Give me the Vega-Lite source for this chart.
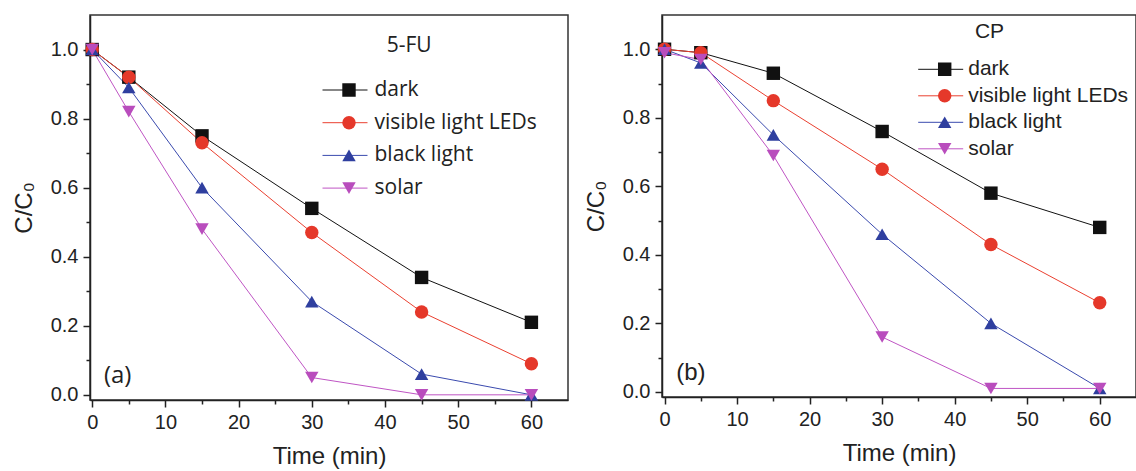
{
  "$schema": "https://vega.github.io/schema/vega-lite/v6.json",
  "background": "white",
  "padding": {"left": 11, "top": 14, "right": 0, "bottom": 0},
  "spacing": 14,
  "config": {
    "view": {"stroke": "#333333", "strokeWidth": 1.5},
    "axis": {
      "grid": false,
      "domainColor": "#222222", "domainWidth": 1.5,
      "tickColor": "#222222", "tickWidth": 1.5,
      "labelFont": "Liberation Sans", "labelFontSize": 20, "labelColor": "#222222",
      "titleFont": "Liberation Sans", "titleFontSize": 24, "titleFontWeight": "normal", "titleColor": "#222222"
    }
  },
  "datasets": {
    "fu": [
      {"series": "dark", "t": 0, "c": 1.0},
      {"series": "dark", "t": 5, "c": 0.92},
      {"series": "dark", "t": 15, "c": 0.75},
      {"series": "dark", "t": 30, "c": 0.54},
      {"series": "dark", "t": 45, "c": 0.34},
      {"series": "dark", "t": 60, "c": 0.21},
      {"series": "visible light LEDs", "t": 0, "c": 1.0},
      {"series": "visible light LEDs", "t": 5, "c": 0.92},
      {"series": "visible light LEDs", "t": 15, "c": 0.73},
      {"series": "visible light LEDs", "t": 30, "c": 0.47},
      {"series": "visible light LEDs", "t": 45, "c": 0.24},
      {"series": "visible light LEDs", "t": 60, "c": 0.09},
      {"series": "black light", "t": 0, "c": 1.0},
      {"series": "black light", "t": 5, "c": 0.89},
      {"series": "black light", "t": 15, "c": 0.6},
      {"series": "black light", "t": 30, "c": 0.27},
      {"series": "black light", "t": 45, "c": 0.06},
      {"series": "black light", "t": 60, "c": 0.0},
      {"series": "solar", "t": 0, "c": 1.0},
      {"series": "solar", "t": 5, "c": 0.82},
      {"series": "solar", "t": 15, "c": 0.48},
      {"series": "solar", "t": 30, "c": 0.05},
      {"series": "solar", "t": 45, "c": 0.0},
      {"series": "solar", "t": 60, "c": 0.0}
    ],
    "cp": [
      {"series": "dark", "t": 0, "c": 1.0},
      {"series": "dark", "t": 5, "c": 0.99},
      {"series": "dark", "t": 15, "c": 0.93},
      {"series": "dark", "t": 30, "c": 0.76},
      {"series": "dark", "t": 45, "c": 0.58},
      {"series": "dark", "t": 60, "c": 0.48},
      {"series": "visible light LEDs", "t": 0, "c": 1.0},
      {"series": "visible light LEDs", "t": 5, "c": 0.99},
      {"series": "visible light LEDs", "t": 15, "c": 0.85},
      {"series": "visible light LEDs", "t": 30, "c": 0.65},
      {"series": "visible light LEDs", "t": 45, "c": 0.43},
      {"series": "visible light LEDs", "t": 60, "c": 0.26},
      {"series": "black light", "t": 0, "c": 1.0},
      {"series": "black light", "t": 5, "c": 0.96},
      {"series": "black light", "t": 15, "c": 0.75},
      {"series": "black light", "t": 30, "c": 0.46},
      {"series": "black light", "t": 45, "c": 0.2},
      {"series": "black light", "t": 60, "c": 0.01},
      {"series": "solar", "t": 0, "c": 0.99},
      {"series": "solar", "t": 5, "c": 0.97},
      {"series": "solar", "t": 15, "c": 0.69},
      {"series": "solar", "t": 30, "c": 0.16},
      {"series": "solar", "t": 45, "c": 0.01},
      {"series": "solar", "t": 60, "c": 0.01}
    ]
  },
  "hconcat": [
    {
      "width": 478,
      "height": 385,
      "encoding": {
        "x": {"field": "t", "type": "quantitative", "title": "Time (min)",
          "scale": {"domain": [-0.3, 65], "nice": false, "zero": false},
          "axis": {"values": [0, 5, 10, 15, 20, 25, 30, 35, 40, 45, 50, 55, 60],
            "labelExpr": "datum.value % 10 === 0 ? datum.label : ''",
            "tickSize": {"condition": {"test": "datum.value % 10 !== 0", "value": 4}, "value": 7},
            "labelPadding": 5, "titlePadding": 12}},
        "y": {"field": "c", "type": "quantitative", "title": "C/C₀",
          "scale": {"domain": [-0.015, 1.1], "nice": false, "zero": false},
          "axis": {"values": [0, 0.1, 0.2, 0.3, 0.4, 0.5, 0.6, 0.7, 0.8, 0.9, 1.0],
            "labelExpr": "round(datum.value * 10) % 2 === 0 ? format(datum.value, '.1f') : ''",
            "tickSize": {"condition": {"test": "round(datum.value * 10) % 2 === 1", "value": 4}, "value": 7},
            "labelPadding": 5, "titlePadding": 14}}
      },
      "layer": [
        {
          "data": {"name": "fu"},
          "mark": {"type": "line", "strokeWidth": 1},
          "encoding": {
            "stroke": {"field": "series", "type": "nominal",
              "sort": ["dark", "visible light LEDs", "black light", "solar"],
              "scale": {"range": ["#111111", "#ea4030", "#3a4aae", "#bf55c4"]},
              "legend": {"orient": "none", "legendX": 232, "legendY": 64.5, "title": null, "padding": 0,
                "symbolType": "stroke", "symbolSize": 2025, "symbolStrokeWidth": 1,
                "labelExpr": "' '", "labelFont": "Open Sans", "labelFontSize": 21, "labelOffset": 5,
                "rowPadding": 10.7, "clipHeight": 21}}
          }
        },
        {
          "data": {"name": "fu"},
          "mark": {"type": "point", "filled": true, "opacity": 1, "size": 180, "strokeWidth": 0},
          "encoding": {
            "color": {"field": "series", "type": "nominal",
              "scale": {"domain": ["dark", "visible light LEDs", "black light", "solar"], "range": ["#111111", "#e5382a", "#2f3f9f", "#b94dbd"]},
              "legend": {"orient": "none", "legendX": 248.5, "legendY": 64.5, "title": null, "padding": 0,
                "symbolSize": 180, "symbolStrokeWidth": 0, "symbolOpacity": 1,
                "labelFont": "Open Sans", "labelFontSize": 21, "labelColor": "#222222", "labelOffset": 15, "labelLimit": 400,
                "rowPadding": 10.7, "clipHeight": 21}},
            "shape": {"field": "series", "type": "nominal",
              "scale": {"domain": ["dark", "visible light LEDs", "black light", "solar"], "range": ["square", "circle", "triangle-up", "triangle-down"]},
              "legend": {"orient": "none", "legendX": 248.5, "legendY": 64.5, "title": null, "padding": 0,
                "symbolSize": 180, "symbolStrokeWidth": 0, "symbolOpacity": 1,
                "labelFont": "Open Sans", "labelFontSize": 21, "labelColor": "#222222", "labelOffset": 15, "labelLimit": 400,
                "rowPadding": 10.7, "clipHeight": 21}}
          }
        },
        {
          "data": {"values": [{"t": 43.3, "c": 1.011, "label": "5-FU"}]},
          "mark": {"type": "text", "font": "Open Sans", "fontSize": 21, "align": "center", "baseline": "middle", "color": "#222222"},
          "encoding": {"text": {"field": "label", "type": "nominal"}}
        },
        {
          "data": {"values": [{"t": 1.6, "c": 0.055, "label": "(a)"}]},
          "mark": {"type": "text", "font": "Open Sans", "fontSize": 24, "align": "left", "baseline": "middle", "color": "#222222"},
          "encoding": {"text": {"field": "label", "type": "nominal"}}
        }
      ]
    },
    {
      "width": 474,
      "height": 382,
      "encoding": {
        "x": {"field": "t", "type": "quantitative", "title": "Time (min)",
          "scale": {"domain": [-0.35, 65], "nice": false, "zero": false},
          "axis": {"values": [0, 5, 10, 15, 20, 25, 30, 35, 40, 45, 50, 55, 60],
            "labelExpr": "datum.value % 10 === 0 ? datum.label : ''",
            "tickSize": {"condition": {"test": "datum.value % 10 !== 0", "value": 4}, "value": 7},
            "labelPadding": 5, "titlePadding": 12}},
        "y": {"field": "c", "type": "quantitative", "title": "C/C₀",
          "scale": {"domain": [-0.015, 1.1], "nice": false, "zero": false},
          "axis": {"values": [0, 0.1, 0.2, 0.3, 0.4, 0.5, 0.6, 0.7, 0.8, 0.9, 1.0],
            "labelExpr": "round(datum.value * 10) % 2 === 0 ? format(datum.value, '.1f') : ''",
            "tickSize": {"condition": {"test": "round(datum.value * 10) % 2 === 1", "value": 4}, "value": 7},
            "labelPadding": 5, "titlePadding": 14}}
      },
      "layer": [
        {
          "data": {"name": "cp"},
          "mark": {"type": "line", "strokeWidth": 1},
          "encoding": {
            "stroke": {"field": "series", "type": "nominal",
              "sort": ["dark", "visible light LEDs", "black light", "solar"],
              "scale": {"range": ["#111111", "#ea4030", "#3a4aae", "#bf55c4"]},
              "legend": {"orient": "none", "legendX": 255.7, "legendY": 43.8, "title": null, "padding": 0,
                "symbolType": "stroke", "symbolSize": 2025, "symbolStrokeWidth": 1,
                "labelExpr": "' '", "labelFont": "Liberation Sans", "labelFontSize": 21, "labelOffset": 5,
                "rowPadding": 4.5, "clipHeight": 21}}
          }
        },
        {
          "data": {"name": "cp"},
          "mark": {"type": "point", "filled": true, "opacity": 1, "size": 180, "strokeWidth": 0},
          "encoding": {
            "color": {"field": "series", "type": "nominal",
              "scale": {"domain": ["dark", "visible light LEDs", "black light", "solar"], "range": ["#111111", "#e5382a", "#2f3f9f", "#b94dbd"]},
              "legend": {"orient": "none", "legendX": 272.2, "legendY": 43.8, "title": null, "padding": 0,
                "symbolSize": 180, "symbolStrokeWidth": 0, "symbolOpacity": 1,
                "labelFont": "Liberation Sans", "labelFontSize": 21, "labelColor": "#222222", "labelOffset": 13, "labelLimit": 400,
                "rowPadding": 4.5, "clipHeight": 21}},
            "shape": {"field": "series", "type": "nominal",
              "scale": {"domain": ["dark", "visible light LEDs", "black light", "solar"], "range": ["square", "circle", "triangle-up", "triangle-down"]},
              "legend": {"orient": "none", "legendX": 272.2, "legendY": 43.8, "title": null, "padding": 0,
                "symbolSize": 180, "symbolStrokeWidth": 0, "symbolOpacity": 1,
                "labelFont": "Liberation Sans", "labelFontSize": 21, "labelColor": "#222222", "labelOffset": 13, "labelLimit": 400,
                "rowPadding": 4.5, "clipHeight": 21}}
          }
        },
        {
          "data": {"values": [{"t": 44.8, "c": 1.049, "label": "CP"}]},
          "mark": {"type": "text", "font": "Liberation Sans", "fontSize": 21, "align": "center", "baseline": "middle", "color": "#222222"},
          "encoding": {"text": {"field": "label", "type": "nominal"}}
        },
        {
          "data": {"values": [{"t": 1.6, "c": 0.055, "label": "(b)"}]},
          "mark": {"type": "text", "font": "Liberation Sans", "fontSize": 24, "align": "left", "baseline": "middle", "color": "#222222"},
          "encoding": {"text": {"field": "label", "type": "nominal"}}
        }
      ]
    }
  ],
  "resolve": {
    "scale": {"stroke": "independent", "color": "independent", "shape": "independent"},
    "legend": {"stroke": "independent", "color": "independent", "shape": "independent"}
  }
}
